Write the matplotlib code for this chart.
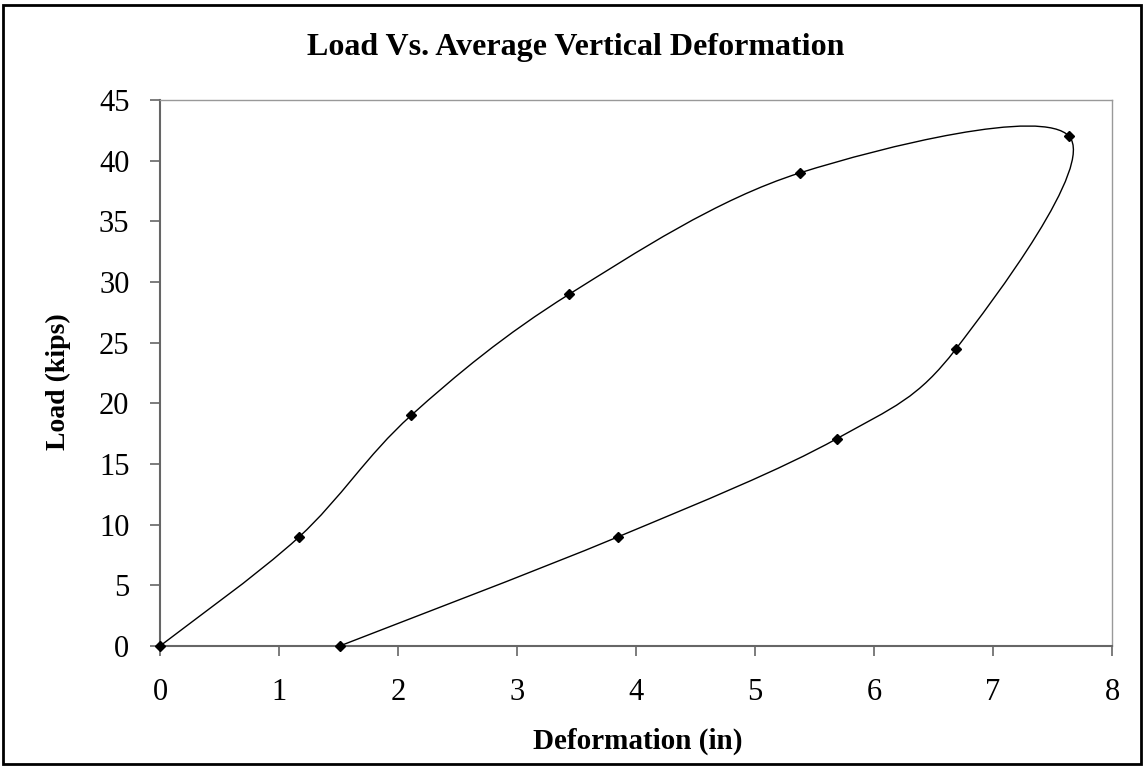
import numpy as np
import matplotlib
matplotlib.use('Agg')
import matplotlib.pyplot as plt
from matplotlib.path import Path
from matplotlib.patches import PathPatch, Rectangle

# data: deformation (in) and load (kips), in loading order
deformation = [0.0, 1.17, 2.11, 3.44, 5.38, 7.64, 6.69, 5.69, 3.85, 1.51]
load        = [0.0, 9.0, 19.0, 29.0, 39.0, 42.0, 24.5, 17.1, 9.0, 0.0]

x_ticks = [0, 1, 2, 3, 4, 5, 6, 7, 8]
y_ticks = [0, 5, 10, 15, 20, 25, 30, 35, 40, 45]

title  = 'Load Vs. Average Vertical Deformation'
xlabel = 'Deformation (in)'
ylabel = 'Load (kips)'

plt.rcParams['font.family'] = ['Liberation Serif', 'DejaVu Serif']


def smooth_path(xs, ys):
    '''
    Excel style smoothed line: one cubic Bezier per segment, control points
    from the neighbouring points (Catmull-Rom, tension 1/6)
    '''
    pts = np.column_stack([xs, ys])
    ext = np.vstack([pts[0], pts, pts[-1]])
    verts = [pts[0]]
    codes = [Path.MOVETO]
    for i in range(len(pts) - 1):
        p0, p1, p2, p3 = ext[i], ext[i + 1], ext[i + 2], ext[i + 3]
        c1 = p1 + (p2 - p0) / 6.0
        c2 = p2 - (p3 - p1) / 6.0
        verts += [c1, c2, p2]
        codes += [Path.CURVE4] * 3
    return Path(verts, codes)


fig = plt.figure(figsize=(11.46, 7.67), dpi=100)
ax = fig.add_axes([160 / 1146, 1 - 646 / 767, (1112 - 160) / 1146, (646 - 100) / 767])

# smooth line and markers
ax.add_patch(PathPatch(smooth_path(deformation, load), facecolor='none',
                       edgecolor='black', lw=1.0, zorder=3))
ax.plot(deformation, load, linestyle='none', marker='D', ms=5,
        color='black', zorder=4, clip_on=False)

ax.set_xlim(0, 8)
ax.set_ylim(0, 45)
ax.set_xticks(x_ticks)
ax.set_yticks(y_ticks)
ax.set_xticklabels([str(t) for t in x_ticks], fontsize=22)
ax.set_yticklabels([str(t) for t in y_ticks], fontsize=22)
ax.tick_params(axis='both', direction='out', length=7, width=1.2,
               color='#666666')
ax.tick_params(axis='x', pad=16)
ax.tick_params(axis='y', pad=15)

for side in ['left', 'bottom']:
    ax.spines[side].set_color('#666666')
    ax.spines[side].set_linewidth(1.5)
for side in ['top', 'right']:
    ax.spines[side].set_color('#999999')
    ax.spines[side].set_linewidth(1.0)

# titles
fig.text(576 / 1146, 1 - 48 / 767, title, ha='center', va='center',
         fontsize=23, fontweight='bold')
fig.text(638 / 1146, 1 - 741 / 767, xlabel, ha='center', va='center',
         fontsize=21, fontweight='bold')
fig.text(58 / 1146, 1 - 382 / 767, ylabel, ha='center', va='center',
         fontsize=20, fontweight='bold', rotation=90)

# chart border
fig.patches.append(Rectangle((3 / 1146, 1 - 764 / 767), 1138 / 1146, 759 / 767,
                             transform=fig.transFigure, fill=False,
                             edgecolor='black', lw=2))

fig.savefig('out.png', dpi=100)
